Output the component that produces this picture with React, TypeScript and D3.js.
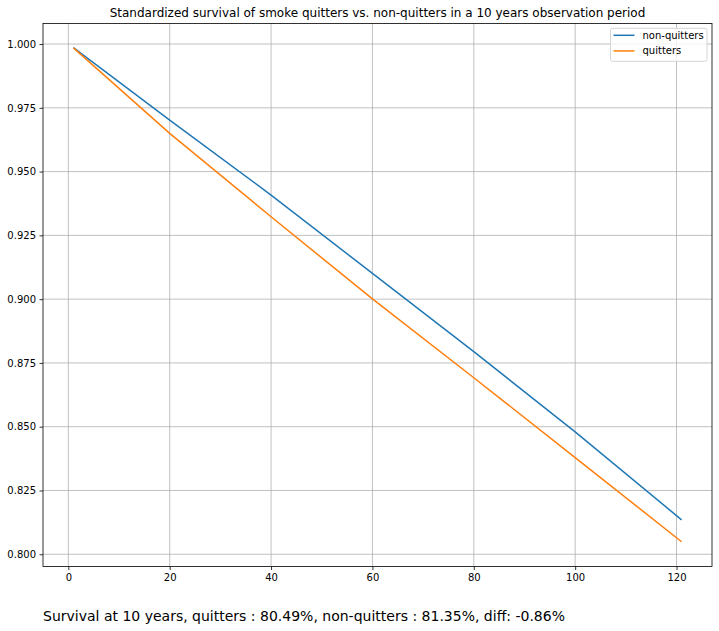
import React, { useEffect, useRef } from "react";
import * as d3 from "d3";

// months of follow-up
const months: number[] = [1, 20, 40, 60, 80, 100, 121];
const nonQuitters: number[] = [0.9986, 0.9702, 0.9408, 0.9101, 0.8794, 0.848, 0.8135];
const quitters: number[] = [0.9985, 0.965, 0.9323, 0.9001, 0.8692, 0.8379, 0.8049];
const seriesNames: string[] = ["non-quitters", "quitters"];
const seriesColors: string[] = ["#1f77b4", "#ff7f0e"];
const xTicks: number[] = [0, 20, 40, 60, 80, 100, 120];
const yTicks: number[] = [0.8, 0.825, 0.85, 0.875, 0.9, 0.925, 0.95, 0.975, 1.0];
const title = "Standardized survival of smoke quitters vs. non-quitters in a 10 years observation period";
const footer = "Survival at 10 years, quitters : 80.49%, non-quitters : 81.35%, diff: -0.86%";

export default function App() {
    const ref = useRef<SVGSVGElement>(null);

    useEffect(() => {
        const svgEl = d3.select(ref.current);
        svgEl.selectAll("*").remove();

        const W = 719;
        const H = 631;
        const margin = { top: 23.5, right: 7, bottom: 64.5, left: 43 };
        const width = W - margin.left - margin.right;
        const height = H - margin.top - margin.bottom;
        const font = "'DejaVu Sans', sans-serif";

        // matplotlib style 5% margins around the data
        const xScale = d3.scaleLinear().domain([-5, 127]).range([0, width]);
        const yScale = d3.scaleLinear().domain([0.7952, 1.00805]).range([height, 0]);

        const g = svgEl.append("g").attr("transform", `translate(${margin.left},${margin.top})`);

        // grid
        g.append("g")
            .selectAll("line")
            .data(xTicks)
            .enter()
            .append("line")
            .attr("x1", d => xScale(d))
            .attr("x2", d => xScale(d))
            .attr("y1", 0)
            .attr("y2", height)
            .attr("stroke", "#b0b0b0")
            .attr("stroke-width", 0.8);
        g.append("g")
            .selectAll("line")
            .data(yTicks)
            .enter()
            .append("line")
            .attr("x1", 0)
            .attr("x2", width)
            .attr("y1", d => yScale(d))
            .attr("y2", d => yScale(d))
            .attr("stroke", "#b0b0b0")
            .attr("stroke-width", 0.8);

        // axes
        const xAxis = g.append("g")
            .attr("transform", `translate(0,${height})`)
            .call(d3.axisBottom(xScale).tickValues(xTicks).tickSize(3.5).tickPadding(3.5).tickFormat(d3.format("d")) as any);
        const yAxis = g.append("g")
            .call(d3.axisLeft(yScale).tickValues(yTicks).tickSize(3.5).tickPadding(3.5).tickFormat(d3.format(".3f")) as any);
        [xAxis, yAxis].forEach(ax => {
            ax.select(".domain").remove();
            ax.selectAll("line").attr("stroke", "#000").attr("stroke-width", 0.8);
            ax.selectAll("text").attr("font-family", font).attr("font-size", 10).attr("fill", "#000");
        });

        // lines
        const line = d3
            .line<number>()
            .x((d, i) => xScale(months[i]))
            .y(d => yScale(d));
        [nonQuitters, quitters].forEach((values, i) =>
            g.append("path")
                .datum(values)
                .attr("fill", "none")
                .attr("stroke", seriesColors[i])
                .attr("stroke-width", 1.5)
                .attr("d", line as any)
        );

        // frame
        g.append("rect")
            .attr("width", width)
            .attr("height", height)
            .attr("fill", "none")
            .attr("stroke", "#000")
            .attr("stroke-width", 0.8);

        // legend
        const legend = g.append("g").attr("transform", `translate(${width - 101.5},4.8)`);
        legend.append("rect")
            .attr("width", 96.5)
            .attr("height", 33)
            .attr("rx", 2)
            .attr("fill", "#fff")
            .attr("fill-opacity", 0.8)
            .attr("stroke", "#cccccc")
            .attr("stroke-width", 0.8);
        seriesNames.forEach((name, i) => {
            const y = 7 + i * 15.6;
            legend.append("line")
                .attr("x1", 3)
                .attr("x2", 24)
                .attr("y1", y)
                .attr("y2", y)
                .attr("stroke", seriesColors[i])
                .attr("stroke-width", 1.5);
            legend.append("text")
                .attr("x", 32)
                .attr("y", y + 3.6)
                .attr("font-family", font)
                .attr("font-size", 10)
                .text(name);
        });

        // title and footer
        svgEl.append("text")
            .attr("x", margin.left + width / 2)
            .attr("y", 17)
            .attr("text-anchor", "middle")
            .attr("font-family", font)
            .attr("font-size", 12)
            .text(title);
        svgEl.append("text")
            .attr("x", 43)
            .attr("y", 621)
            .attr("font-family", font)
            .attr("font-size", 14)
            .text(footer);
    }, []);

    return (
        <div style={{ position: "absolute", left: 0, top: 0 }}>
            <svg ref={ref} width={719} height={631} style={{ display: "block", background: "#fff" }} />
        </div>
    );
}
